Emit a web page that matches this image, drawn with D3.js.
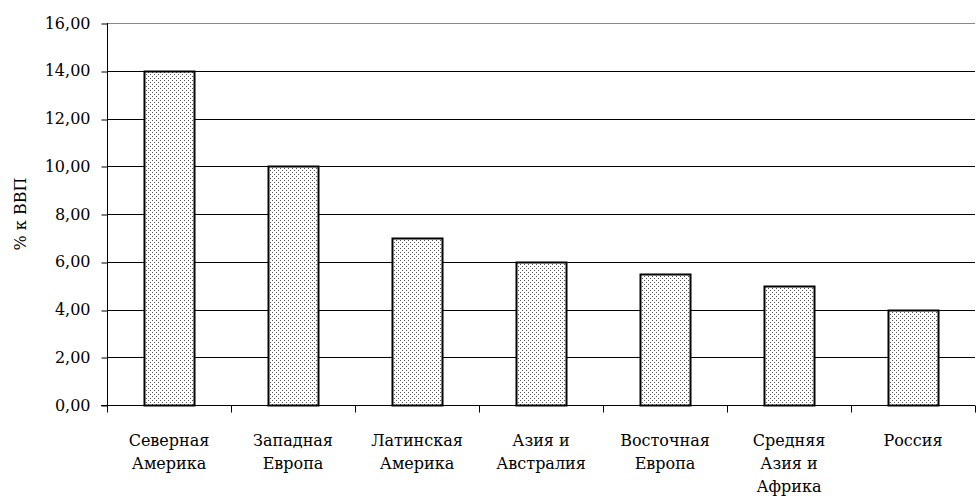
<!DOCTYPE html>
<html><head><meta charset="utf-8">
<script src="https://cdn.jsdelivr.net/npm/d3@7"></script>
<style>body{margin:0;background:#fff}svg{display:block} svg text{font-family:"DejaVu Serif" !important;}</style>
</head><body>
<script>
const categories = [["Северная","Америка"],["Западная","Европа"],["Латинская","Америка"],["Азия и","Австралия"],["Восточная","Европа"],["Средняя","Азия и","Африка"],["Россия"]];
const values = [14, 10, 7, 6, 5.5, 5, 4];
const yTicks = [0,2,4,6,8,10,12,14,16];
const yTitle = "% к ВВП";

const W=976,H=504, m={l:107,r:1,t:23,b:99};
const svg=d3.select("body").append("svg").attr("width",W).attr("height",H);
const fs=16;
const defs=svg.append("defs");
const pat=defs.append("pattern").attr("id","dots").attr("patternUnits","userSpaceOnUse").attr("width",4).attr("height",4);
pat.append("rect").attr("width",4).attr("height",4).attr("fill","#fff");
pat.append("rect").attr("x",0).attr("y",0).attr("width",1).attr("height",1).attr("fill","#555");
pat.append("rect").attr("x",2).attr("y",2).attr("width",1).attr("height",1).attr("fill","#555");

const x=d3.scaleBand().domain(d3.range(categories.length)).range([m.l,W-m.r]).paddingInner(0).paddingOuter(0);
const y=d3.scaleLinear().domain([0,16]).range([H-m.b,m.t]);

svg.append("g").selectAll("line").data(yTicks.filter(d=>d>0)).join("line")
 .attr("x1",m.l).attr("x2",W-m.r).attr("y1",d=>Math.round(y(d))+0.5).attr("y2",d=>Math.round(y(d))+0.5)
 .attr("stroke",d=>d===16?"#888":"#000").attr("stroke-width",1);

const ya=svg.append("g").attr("transform",`translate(${m.l+0.5},0)`)
 .call(d3.axisLeft(y).tickValues(yTicks).tickSize(6).tickPadding(11).tickFormat(d=>d3.format(".2f")(d).replace(".",",")));
ya.select(".domain").attr("stroke","#000").attr("d",`M0,${m.t}V${H-m.b}`);
ya.selectAll(".tick line").attr("stroke","#000").attr("transform",d=>`translate(0,${Math.round(y(d))+0.5-y(d)})`);
ya.selectAll("text").attr("font-size",fs).attr("fill","#000");

const bw=50;
svg.append("g").selectAll("rect").data(values).join("rect")
 .attr("x",(d,i)=>Math.round(x(i)+x.bandwidth()/2-bw/2)+0.5)
 .attr("y",d=>Math.round(y(d))+0.5)
 .attr("width",bw)
 .attr("height",d=>Math.round(y(0))-Math.round(y(d)))
 .attr("fill","url(#dots)").attr("stroke","#000").attr("stroke-width",2);

const xa=svg.append("g").attr("transform",`translate(0,${Math.round(y(0))+0.5})`);
xa.append("line").attr("x1",m.l-6).attr("x2",W-m.r).attr("stroke","#000");
xa.selectAll(".tk").data(d3.range(categories.length+1)).join("line").attr("class","tk")
 .attr("x1",i=>Math.round(m.l+i*x.bandwidth())+0.5).attr("x2",i=>Math.round(m.l+i*x.bandwidth())+0.5)
 .attr("y1",0).attr("y2",7).attr("stroke","#000");
const lbl=xa.selectAll(".lb").data(categories).join("text").attr("class","lb")
 .attr("text-anchor","middle").attr("font-size",fs).attr("fill","#000")
 .attr("transform",(d,i)=>`translate(${x(i)+x.bandwidth()/2},0)`);
lbl.selectAll("tspan").data(d=>d).join("tspan").attr("x",0).attr("y",(d,j)=>40+j*23).text(d=>d);

svg.append("text").attr("transform",`translate(26,${(m.t+H-m.b)/2}) rotate(-90)`)
 .attr("text-anchor","middle").attr("font-size",fs).text(yTitle);
</script>
</body></html>
